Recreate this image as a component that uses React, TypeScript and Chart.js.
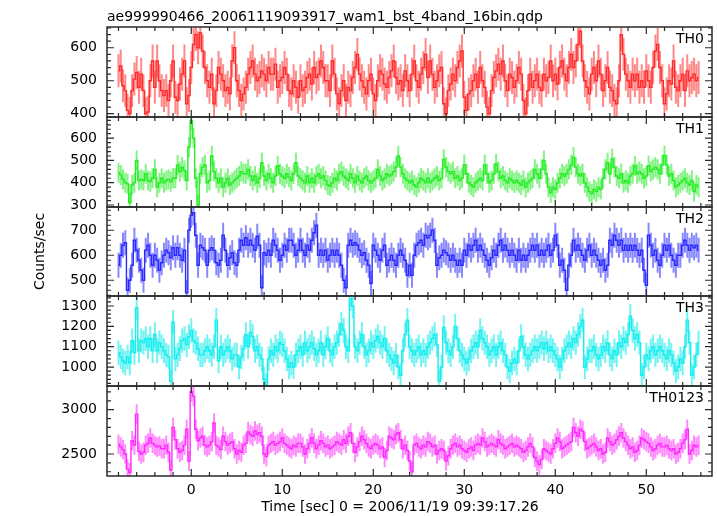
import React, { useEffect, useRef } from "react";
import { Chart, registerables } from "chart.js";

Chart.register(...registerables);

const TITLE = "ae999990466_20061119093917_wam1_bst_4band_16bin.qdp";
const X_TITLE = "Time [sec] 0 = 2006/11/19 09:39:17.26";
const Y_TITLE = "Counts/sec";
const T_START = -8;
const BIN = 0.25;
const X_TICK_LABELS = [0, 10, 20, 30, 40, 50];

const TH0 = [
  530, 545, 485, 470, 410, 400, 470, 505, 525, 480, 520, 470, 400, 405, 500, 560,
  480, 560, 500, 470, 455, 470, 440, 500, 560, 450, 440, 490, 520, 560, 430, 455,
  540, 610, 640, 600, 645, 590, 540, 500, 480, 520, 430, 470, 540, 520, 500, 470,
  480, 460, 560, 600, 500, 470, 440, 460, 480, 520, 540, 560, 520, 500, 510, 530,
  520, 500, 540, 520, 520, 550, 480, 500, 510, 540, 520, 470, 460, 500, 480, 450,
  500, 470, 480, 510, 520, 490, 540, 510, 520, 560, 540, 500, 500, 470, 560, 520,
  460, 430, 470, 500, 440, 480, 470, 510, 540, 580, 520, 500, 480, 460, 500, 520,
  460, 440, 500, 530, 520, 490, 480, 510, 530, 560, 510, 490, 500, 470, 530, 500,
  470, 520, 560, 500, 480, 520, 540, 580, 510, 560, 520, 480, 500, 530, 540, 430,
  400, 470, 490, 520, 500, 540, 560, 590, 450, 410, 460, 470, 500, 520, 480, 540,
  500, 480, 420, 400, 470, 510, 530, 550, 520, 560, 500, 470, 520, 510, 480, 500,
  540, 520, 440, 400, 470, 520, 480, 500, 520, 480, 470, 520, 500, 510, 560, 500,
  520, 490, 540, 560, 520, 500, 540, 580, 540, 560, 610, 650, 560, 500, 480, 460,
  520, 540, 500, 560, 520, 470, 500, 540, 480, 470, 440, 430, 500, 640, 580, 520,
  500, 480, 520, 500, 520, 480, 500, 480, 530, 500, 480, 540, 590, 610, 540, 500,
  430, 460, 500, 490, 560, 480, 470, 500, 520, 470, 530, 500, 510, 520, 500, 510,
];

const TH1 = [
  445, 435, 415, 400, 395, 310, 390, 400, 500, 410, 415, 410, 440, 410, 405, 420,
  460, 380, 400, 420, 400, 410, 415, 405, 420, 420, 480, 450, 470, 455, 410, 560,
  680, 600, 420, 300, 440, 470, 480, 400, 410, 520, 450, 420, 400, 420, 380, 400,
  420, 390, 400, 410, 420, 430, 450, 440, 440, 460, 430, 410, 430, 400, 420, 490,
  430, 410, 440, 420, 400, 430, 476, 440, 430, 420, 440, 425, 410, 440, 490, 430,
  420, 410, 400, 430, 400, 420, 400, 430, 440, 420, 430, 410, 390, 385, 400, 420,
  410, 440, 450, 430, 420, 410, 440, 420, 400, 430, 410, 400, 420, 430, 410, 400,
  410, 420, 460, 430, 410, 420, 440, 430, 437, 450, 470, 520, 470, 440, 420, 410,
  400, 410, 390, 380, 400, 420, 410, 400, 420, 400, 410, 420, 430, 410, 420, 505,
  470, 450, 440, 450, 420, 430, 410, 420, 480, 440, 400, 390, 380, 400, 410, 420,
  410, 480, 440, 400, 410, 440, 484, 450, 420, 430, 410, 400, 420, 410, 400, 410,
  400, 390, 410, 380, 400, 410, 420, 460, 440, 420, 460, 500, 440, 380, 355, 380,
  370, 400, 420, 440, 430, 440, 460, 480, 515, 470, 440, 430, 440, 400, 380, 360,
  350, 370, 360, 380, 370, 420, 460, 490, 440, 507, 470, 430, 420, 440, 400, 410,
  400, 430, 440, 476, 440, 450, 440, 420, 430, 476, 450, 460, 470, 460, 440, 480,
  522, 480, 430, 440, 410, 380, 390, 400, 410, 420, 400, 390, 410, 360, 390, 380,
];

const TH2 = [
  560, 600, 640, 650, 460, 500, 560, 660, 620, 580, 540, 500, 620, 640, 600, 560,
  600, 580, 540, 570, 600, 620, 610, 590, 630, 600, 630, 600, 580, 620, 450, 700,
  760, 770, 680, 560, 640, 630, 620, 560, 620, 630, 620, 570, 560, 580, 680, 620,
  560, 590, 610, 570, 560, 620, 660, 640, 670, 640, 660, 640, 620, 676, 640, 470,
  610, 600, 620, 600, 660, 640, 620, 580, 600, 640, 620, 660, 660, 640, 600, 620,
  660, 620, 600, 640, 620, 660, 690, 720, 600, 620, 600, 620, 580, 600, 620, 600,
  620, 600, 560, 500, 470, 640, 660, 640, 650, 640, 620, 600, 610, 580, 560, 487,
  640, 620, 600, 580, 620, 640, 560, 580, 600, 580, 560, 600, 620, 600, 580, 520,
  560, 520, 600, 640, 650, 660, 640, 680, 670, 680, 700, 660, 560, 590, 600, 620,
  610, 600, 580, 600, 580, 560, 580, 560, 620, 600, 640, 620, 640, 660, 620, 640,
  620, 600, 580, 560, 590, 620, 600, 640, 660, 620, 640, 620, 600, 620, 600, 580,
  620, 580, 600, 580, 600, 620, 640, 620, 640, 600, 620, 600, 620, 640, 600, 620,
  680, 640, 560, 580, 540, 460, 560, 600, 660, 620, 640, 620, 600, 580, 620, 640,
  600, 620, 600, 580, 560, 580, 540, 560, 660, 640, 680, 660, 640, 660, 620, 640,
  620, 640, 620, 640, 620, 600, 620, 540, 480, 680, 640, 600, 620, 580, 560, 600,
  640, 620, 640, 600, 580, 560, 600, 600, 640, 660, 640, 620, 640, 630, 640, 620,
];

const TH3 = [
  1070, 1050, 1030, 1020, 1050, 1020, 1130, 1070, 1290, 1080, 1130, 1120, 1140, 1100, 1140, 1080,
  1160, 1080, 1120, 1100, 1080, 1060, 1050, 930, 1220, 1040, 1060, 1090, 1130, 1140, 1110, 1150,
  1180, 1130, 1120, 1090, 1060, 1060, 1080, 1100, 1080, 1060, 1100, 1230, 1030, 1100, 1060, 1080,
  1100, 1080, 1040, 1060, 1060, 1000, 1050, 1090, 1160, 1100, 1170, 1150, 1080, 1100, 1060, 1040,
  940, 910, 1040, 1080, 1060, 1100, 1080, 1120, 1110, 1080, 1040, 1000, 1020, 1000, 1060, 1080,
  1100, 1060, 1120, 1080, 1100, 1120, 1090, 1060, 1080, 1120, 1060, 1100, 1140, 1080, 1060, 1100,
  1120, 1160, 1212, 1180, 1100, 1080, 1337, 1300, 1100, 1080, 1120, 1160, 1100, 1060, 1080, 1120,
  1100, 1130, 1150, 1120, 1100, 1140, 1080, 1060, 1040, 1020, 1060, 1000, 960, 1080, 1160, 1230,
  1100, 1080, 1060, 1080, 1100, 1060, 1080, 1060, 1100, 1120, 1140, 1160, 1110, 930, 1000, 1195,
  1120, 1080, 1060, 1100, 1200, 1140, 1080, 1060, 1040, 1020, 1040, 1080, 1100, 1120, 1100, 1180,
  1140, 1120, 1100, 1060, 1080, 1100, 1060, 1100, 1120, 1080, 1060, 1000, 980, 1020, 1040, 1020,
  1080, 1150, 1100, 1060, 1040, 1060, 1080, 1100, 1080, 1100, 1120, 1090, 1120, 1080, 1100, 1080,
  1060, 1040, 1000, 1040, 1080, 1100, 1120, 1100, 1140, 1120, 1160, 1200, 1230, 1000, 1040, 1080,
  1080, 1100, 1060, 1040, 1060, 1100, 1080, 1120, 1060, 1040, 1080, 1060, 1120, 1100, 1140, 1120,
  1160, 1250, 1180, 1140, 1160, 1120, 960, 1000, 1060, 1040, 1080, 1100, 1060, 1080, 1100, 1080,
  1060, 1040, 1080, 1060, 1020, 980, 1000, 1040, 1020, 1100, 1230, 1120, 960, 1000, 1060, 1120,
];

const TH0123 = [
  2610, 2580, 2550, 2500, 2330, 2290, 2650, 2600, 2950, 2530, 2500, 2520, 2600, 2620, 2680, 2620,
  2600, 2580, 2590, 2560, 2560, 2600, 2520, 2320, 2800, 2660, 2560, 2520, 2540, 2600, 2780, 2420,
  3200, 3150, 2780, 2650, 2680, 2700, 2600, 2580, 2600, 2640, 2850, 2600, 2580, 2550, 2700, 2640,
  2600, 2620, 2640, 2560, 2500, 2540, 2520, 2600, 2620, 2750, 2720, 2700, 2760, 2720, 2740, 2700,
  2500, 2470, 2600, 2620, 2640, 2600, 2620, 2640, 2680, 2620, 2600, 2580, 2560, 2600, 2580, 2620,
  2620, 2580, 2500, 2560, 2620, 2680, 2620, 2560, 2600, 2650, 2620, 2580, 2600, 2560, 2580, 2600,
  2640, 2620, 2600, 2660, 2620, 2700, 2740, 2620, 2520, 2580, 2640, 2700, 2660, 2620, 2580, 2560,
  2600, 2620, 2600, 2560, 2580, 2460, 2540, 2700, 2680, 2660, 2720, 2740, 2660, 2560, 2600, 2540,
  2420, 2300, 2600, 2620, 2580, 2560, 2600, 2580, 2640, 2620, 2580, 2600, 2500, 2540, 2560, 2540,
  2420, 2480, 2560, 2600, 2620, 2580, 2600, 2560, 2540, 2520, 2560, 2580, 2540, 2600, 2620, 2600,
  2680, 2640, 2580, 2600, 2620, 2600, 2580, 2660, 2620, 2600, 2560, 2580, 2600, 2620, 2580, 2600,
  2580, 2560, 2520, 2540, 2580, 2620, 2580, 2460, 2420, 2380, 2440, 2560, 2540, 2520, 2500, 2560,
  2620, 2680, 2640, 2560, 2580, 2600, 2620, 2640, 2800, 2740, 2700, 2780, 2760, 2640, 2560, 2580,
  2600, 2620, 2580, 2540, 2560, 2500, 2520, 2680, 2640, 2600, 2620, 2660, 2700, 2740, 2680, 2640,
  2600, 2560, 2580, 2520, 2540, 2600, 2680, 2660, 2640, 2620, 2580, 2540, 2560, 2600, 2620, 2580,
  2580, 2600, 2560, 2540, 2560, 2500, 2520, 2560, 2620, 2660, 2780, 2500, 2540, 2600, 2580, 2600,
];

const SERIES = [TH0, TH1, TH2, TH3, TH0123];
const SERIES_NAMES = ["TH0", "TH1", "TH2", "TH3", "TH0123"];
const SERIES_ERRORS = [50, 45, 50, 60, 110];
const Y_MIN = [390, 291, 437, 907, 2252];
const Y_MAX = [663, 695, 793, 1349, 3267];
const Y_MAJOR = [100, 100, 100, 100, 500];
const Y_MINOR = [20, 20, 20, 20, 100];
const X_MIN = -9.26;
const X_MAX = 57.22;

// styling / layout
const LINE_COLORS = ["#ff2a2a", "#22ee22", "#2a2aff", "#14eeee", "#ff2aff"];
const ERR_COLORS = [
  "rgba(255,40,40,0.55)",
  "rgba(30,235,30,0.55)",
  "rgba(40,40,255,0.55)",
  "rgba(20,235,235,0.6)",
  "rgba(255,40,255,0.55)",
];
const W = 717;
const H = 516;
const PANEL_EDGES = [27, 117, 207, 296, 386, 476];
const PLOT_LEFT = 107;
const PLOT_RIGHT = 712;
const FONT = '14px "DejaVu Sans", sans-serif';
const FRAME = "#2a2a2a";

function makePlugin(i: number) {
  return {
    id: "qdpPanel" + i,
    beforeDatasetsDraw(chart: any) {
      const { ctx, chartArea: a } = chart;
      const xs = chart.scales.x;
      const ys = chart.scales.y;
      const vals = SERIES[i];
      const e = SERIES_ERRORS[i];
      ctx.save();
      ctx.beginPath();
      ctx.rect(a.left, a.top, a.right - a.left, a.bottom - a.top);
      ctx.clip();
      ctx.strokeStyle = ERR_COLORS[i];
      ctx.lineWidth = 2;
      ctx.beginPath();
      vals.forEach((v: number, k: number) => {
        const px = xs.getPixelForValue(T_START + k * BIN);
        ctx.moveTo(px, ys.getPixelForValue(v - e));
        ctx.lineTo(px, ys.getPixelForValue(v + e));
      });
      ctx.stroke();
      ctx.restore();
    },
    afterDraw(chart: any) {
      const { ctx, chartArea: a } = chart;
      const xs = chart.scales.x;
      const ys = chart.scales.y;
      ctx.save();
      ctx.strokeStyle = FRAME;
      ctx.lineWidth = 1.2;
      ctx.beginPath();
      for (let k = Math.ceil(X_MIN / 2); k <= Math.floor(X_MAX / 2); k++) {
        const v = k * 2;
        const len = v % 10 === 0 ? 7 : 4;
        const px = xs.getPixelForValue(v);
        ctx.moveTo(px, a.bottom);
        ctx.lineTo(px, a.bottom - len);
        ctx.moveTo(px, a.top);
        ctx.lineTo(px, a.top + len);
      }
      const mn = Y_MINOR[i];
      const mj = Y_MAJOR[i];
      for (let k = Math.ceil(Y_MIN[i] / mn); k <= Math.floor(Y_MAX[i] / mn); k++) {
        const v = k * mn;
        const len = v % mj === 0 ? 7 : 4;
        const py = ys.getPixelForValue(v);
        ctx.moveTo(a.left, py);
        ctx.lineTo(a.left + len, py);
        ctx.moveTo(a.right, py);
        ctx.lineTo(a.right - len, py);
      }
      ctx.stroke();
      ctx.lineWidth = 1.5;
      ctx.strokeRect(a.left, a.top, a.right - a.left, a.bottom - a.top);

      ctx.fillStyle = "#000";
      ctx.font = FONT;
      ctx.textAlign = "right";
      ctx.textBaseline = "middle";
      for (let k = Math.ceil(Y_MIN[i] / mj); k <= Math.floor(Y_MAX[i] / mj); k++) {
        const v = k * mj;
        ctx.fillText(String(v), a.left - 10, ys.getPixelForValue(v));
      }
      ctx.textBaseline = "alphabetic";
      ctx.fillText(SERIES_NAMES[i], 704, a.top + 15.5);

      if (i === 0) {
        ctx.textAlign = "left";
        ctx.fillText(TITLE, PLOT_LEFT, 21);
      }
      if (i === 2) {
        ctx.save();
        ctx.translate(40, (PANEL_EDGES[0] + PANEL_EDGES[5]) / 2);
        ctx.rotate(-Math.PI / 2);
        ctx.textAlign = "center";
        ctx.textBaseline = "middle";
        ctx.fillText(Y_TITLE, 0, 0);
        ctx.restore();
      }
      if (i === SERIES.length - 1) {
        ctx.textAlign = "center";
        ctx.textBaseline = "middle";
        X_TICK_LABELS.forEach((v) => {
          ctx.fillText(String(v), xs.getPixelForValue(v), 490);
        });
        ctx.fillText(X_TITLE, 400, 507);
      }
      ctx.restore();
    },
  };
}

function Panel({ index }: { index: number }) {
  const ref = useRef<HTMLCanvasElement | null>(null);
  useEffect(() => {
    const canvas = ref.current;
    if (!canvas) return;
    const vals = SERIES[index];
    const chart = new Chart(canvas, {
      type: "line",
      data: {
        datasets: [
          {
            data: vals.map((v, k) => ({ x: T_START + k * BIN, y: v })),
            borderColor: LINE_COLORS[index],
            borderWidth: 1.4,
            pointRadius: 0,
            stepped: "middle",
            fill: false,
          },
        ],
      },
      options: {
        responsive: false,
        maintainAspectRatio: false,
        animation: false,
        devicePixelRatio: 1,
        layout: {
          padding: {
            left: PLOT_LEFT,
            right: W - PLOT_RIGHT,
            top: PANEL_EDGES[index],
            bottom: H - PANEL_EDGES[index + 1],
          },
        },
        scales: {
          x: { type: "linear", min: X_MIN, max: X_MAX, display: false },
          y: { type: "linear", min: Y_MIN[index], max: Y_MAX[index], display: false },
        },
        plugins: {
          legend: { display: false },
          title: { display: false },
          tooltip: { enabled: false },
        },
        events: [],
      },
      plugins: [makePlugin(index)],
    } as any);
    return () => chart.destroy();
  }, [index]);
  return (
    <canvas
      ref={ref}
      width={W}
      height={H}
      style={{ position: "absolute", left: 0, top: 0, width: W, height: H }}
    />
  );
}

export default function App() {
  return (
    <div
      style={{
        position: "fixed",
        left: 0,
        top: 0,
        width: W,
        height: H,
        background: "#ffffff",
        overflow: "hidden",
      }}
    >
      {SERIES.map((_, i) => (
        <Panel key={i} index={i} />
      ))}
    </div>
  );
}
